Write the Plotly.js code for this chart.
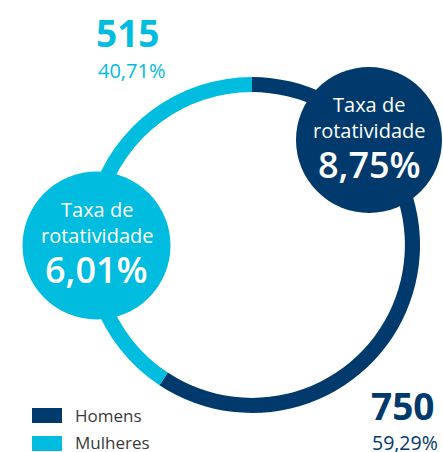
<!DOCTYPE html>
<html>
<head>
<meta charset="utf-8">
<script src="https://cdn.plot.ly/plotly-3.0.1.min.js"></script>
<style>html,body{margin:0;padding:0;background:#fff;}#chart{width:443px;height:452px;}</style>
</head>
<body>
<div id="chart"></div>
<script>
const labels = ['Homens', 'Mulheres'];
const values = [750, 515];
const shares = ['59,29%', '40,71%'];
const rateTitle = ['Taxa de', 'rotatividade'];
const rates = ['8,75%', '6,01%'];

const W = 443, H = 452;
const NAVY = '#003a6c', CYAN = '#00bde0', TXT = '#3a3a3a';
const FONT = 'Open Sans, Noto Sans, sans-serif';
const px = x => x / W;
const py = y => 1 - y / H;

// ring geometry (pixels)
const cx = 252, cy = 245, R = 168;

const trace = {
  type: 'pie',
  labels: labels,
  values: values,
  sort: false,
  direction: 'clockwise',
  rotation: 0,
  hole: 0.91,
  textinfo: 'none',
  hoverinfo: 'label+value+percent',
  marker: {colors: [NAVY, CYAN], line: {width: 0}},
  domain: {x: [px(cx - R), px(cx + R)], y: [py(cy + R), py(cy - R)]},
  showlegend: false
};

function circle(x, y, r, color) {
  return {type: 'circle', xref: 'paper', yref: 'paper',
    x0: px(x - r), x1: px(x + r), y0: py(y + r), y1: py(y - r),
    fillcolor: color, line: {width: 0}, layer: 'above'};
}
function ann(text, x, y, size, color, weight, xanchor) {
  return {text: text, x: px(x), y: py(y), xref: 'paper', yref: 'paper',
    xanchor: xanchor || 'center', yanchor: 'middle', showarrow: false,
    font: {family: FONT, size: size, color: color, weight: weight || 400}};
}

const shapes = [
  circle(369, 140, 73, NAVY),
  circle(96.5, 245.5, 74, CYAN),
  {type: 'rect', xref: 'paper', yref: 'paper', x0: px(32), x1: px(62), y0: py(423), y1: py(408), fillcolor: NAVY, line: {width: 0}},
  {type: 'rect', xref: 'paper', yref: 'paper', x0: px(32), x1: px(62), y0: py(451), y1: py(436), fillcolor: CYAN, line: {width: 0}}
];

const annotations = [
  ann(String(values[1]), 127, 32, 37, CYAN, 700),
  ann(shares[1], 131, 70, 20, CYAN, 400),
  ann(String(values[0]), 402, 405, 37, NAVY, 700),
  ann(shares[0], 405, 442, 19.5, NAVY, 400),
  ann(rateTitle[0], 369, 104, 20, '#ffffff', 400),
  ann(rateTitle[1], 369, 130, 20, '#ffffff', 400),
  ann(rates[0], 369, 164, 36, '#ffffff', 600),
  ann(rateTitle[0], 96.5, 209, 20, '#ffffff', 400),
  ann(rateTitle[1], 96.5, 235, 20, '#ffffff', 400),
  ann(rates[1], 96.5, 269, 36, '#ffffff', 600),
  ann(labels[0], 73, 415, 17, TXT, 400, 'left'),
  ann(labels[1], 73, 442, 17, TXT, 400, 'left')
];

const layout = {
  width: W, height: H,
  margin: {l: 0, r: 0, t: 0, b: 0},
  paper_bgcolor: '#ffffff',
  plot_bgcolor: '#ffffff',
  showlegend: false,
  shapes: shapes,
  annotations: annotations
};

Plotly.newPlot('chart', [trace], layout, {displayModeBar: false, staticPlot: true});
</script>
</body>
</html>
